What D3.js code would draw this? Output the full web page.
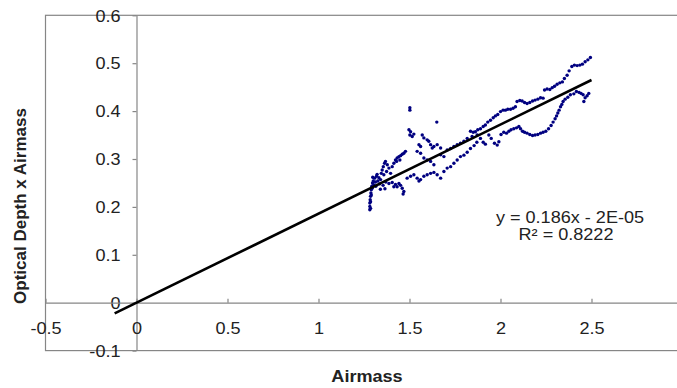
<!DOCTYPE html>
<html>
<head>
<meta charset="utf-8">
<script src="https://cdn.jsdelivr.net/npm/d3@7"></script>
<style>
  html, body { margin: 0; padding: 0; background: #fff; overflow: hidden; }
  text { font-family: Arial, "Liberation Sans", sans-serif; fill: #222; }
</style>
</head>
<body>
<svg id="chart" width="677" height="388"></svg>
<script>
// Airmass (x) of each observation
const airmass = [
  1.282, 1.282, 1.282, 1.284, 1.286, 1.288, 1.290, 1.293, 1.297, 1.301, 1.286, 1.286, 1.290, 1.295,
  1.308, 1.319, 1.332, 1.313, 1.326, 1.341, 1.304, 1.315, 1.322, 1.335, 1.298, 1.340, 1.355, 1.370, 1.365,
  1.350, 1.356, 1.363, 1.368, 1.378, 1.387, 1.374, 1.396, 1.359, 1.345,
  1.405, 1.414, 1.423, 1.432, 1.442, 1.451, 1.460, 1.469, 1.478, 1.447, 1.429,
  1.387, 1.405, 1.423, 1.432, 1.442, 1.451, 1.460, 1.469, 1.465, 1.414,
  1.487, 1.506, 1.524, 1.542, 1.552, 1.561, 1.579, 1.597, 1.616, 1.634, 1.652, 1.671, 1.689, 1.707, 1.726, 1.744, 1.762, 1.780, 1.799, 1.817,
  1.497, 1.506, 1.502, 1.515, 1.524, 1.570, 1.579, 1.597, 1.606, 1.616, 1.625, 1.634, 1.652, 1.671, 1.552, 1.561, 1.542, 1.561, 1.579, 1.597, 1.616, 1.634, 1.671, 1.689,
  1.707, 1.726, 1.744, 1.762, 1.780, 1.799, 1.817,
  1.502, 1.502, 1.650,
  1.835, 1.855, 1.870,
  1.835, 1.850, 1.862, 1.875, 1.890, 1.905, 1.917, 1.930, 1.945, 1.960, 1.972, 1.985, 2.000, 2.014, 2.027, 2.040, 2.055, 2.069, 2.082, 2.091,
  2.106, 2.119, 2.132, 2.146, 2.161, 2.176, 2.190, 2.205, 2.220, 2.234, 2.242, 2.256, 2.271, 2.284, 2.297, 2.311, 2.326, 2.340, 2.351, 2.366,
  2.377, 2.392, 2.406, 2.421, 2.436, 2.450, 2.465, 2.480, 2.494,
  1.844, 1.872, 1.890, 1.905, 1.917, 1.936, 1.949, 1.967, 1.982, 1.991, 2.003, 2.018, 2.033, 2.046, 2.058, 2.073, 2.088, 2.101, 2.110, 2.121,
  2.132, 2.146, 2.161, 2.176, 2.190, 2.205, 2.220, 2.234, 2.249, 2.264, 2.278, 2.289, 2.300, 2.308, 2.315, 2.322, 2.330, 2.337, 2.344, 2.355,
  2.370, 2.384, 2.403, 2.417, 2.432, 2.443, 2.454, 2.465, 2.458, 2.476, 2.485
];

// Optical depth multiplied by airmass (y), same order as airmass
const odAirmass = [
  0.194, 0.201, 0.208, 0.215, 0.222, 0.229, 0.236, 0.243, 0.250, 0.254, 0.197, 0.211, 0.225, 0.239,
  0.260, 0.264, 0.261, 0.252, 0.254, 0.257, 0.246, 0.243, 0.268, 0.248, 0.262, 0.237, 0.245, 0.252, 0.238,
  0.277, 0.284, 0.291, 0.295, 0.288, 0.281, 0.274, 0.270, 0.267, 0.270,
  0.284, 0.291, 0.298, 0.302, 0.305, 0.307, 0.310, 0.312, 0.316, 0.298, 0.295,
  0.249, 0.251, 0.247, 0.242, 0.249, 0.245, 0.239, 0.232, 0.227, 0.242,
  0.260, 0.264, 0.267, 0.260, 0.254, 0.257, 0.264, 0.267, 0.270, 0.272, 0.267, 0.260, 0.274, 0.281, 0.284, 0.291, 0.298, 0.305, 0.308, 0.314,
  0.361, 0.357, 0.350, 0.347, 0.352, 0.350, 0.344, 0.340, 0.337, 0.330, 0.323, 0.326, 0.330, 0.323, 0.330, 0.326, 0.316, 0.312, 0.302, 0.298, 0.295, 0.288, 0.309, 0.305,
  0.319, 0.322, 0.326, 0.330, 0.333, 0.337, 0.343,
  0.407, 0.402, 0.377,
  0.322, 0.328, 0.335,
  0.358, 0.356, 0.357, 0.361, 0.363, 0.368, 0.371, 0.377, 0.381, 0.386, 0.390, 0.393, 0.399, 0.402, 0.402, 0.404, 0.404, 0.406, 0.409, 0.420,
  0.422, 0.421, 0.418, 0.416, 0.418, 0.421, 0.423, 0.425, 0.428, 0.427, 0.444, 0.446, 0.445, 0.449, 0.452, 0.456, 0.459, 0.461, 0.468, 0.475,
  0.484, 0.493, 0.496, 0.495, 0.496, 0.498, 0.503, 0.507, 0.512,
  0.347, 0.350, 0.343, 0.335, 0.331, 0.350, 0.343, 0.333, 0.329, 0.336, 0.351, 0.356, 0.354, 0.358, 0.361, 0.363, 0.365, 0.368, 0.363, 0.358,
  0.356, 0.354, 0.351, 0.349, 0.350, 0.351, 0.354, 0.356, 0.358, 0.363, 0.370, 0.377, 0.384, 0.390, 0.396, 0.402, 0.409, 0.414, 0.420, 0.425,
  0.429, 0.434, 0.436, 0.441, 0.439, 0.437, 0.434, 0.428, 0.420, 0.432, 0.437
];

const xTicks = [-0.5, 0, 0.5, 1, 1.5, 2, 2.5];
const xTickLabels = ["-0.5", "0", "0.5", "1", "1.5", "2", "2.5"];
const yTicks = [-0.1, 0, 0.1, 0.2, 0.3, 0.4, 0.5, 0.6];
const yTickLabels = ["-0.1", "0", "0.1", "0.2", "0.3", "0.4", "0.5", "0.6"];

// Linear least-squares trendline
const slope = 0.186;
const intercept = -0.00002;
const fitRange = [-0.12, 2.5];
const equationLines = ["y = 0.186x - 2E-05", "R\u00B2 = 0.8222"];

const xTitle = "Airmass";
const yTitle = "Optical Depth x Airmass";

// ---- drawing ----
const svg = d3.select("#chart");
const stretch = 1.13; // text is a little wider than tall
const gridColor = "#868686";

const x = d3.scaleLinear().domain([-0.5, 3]).range([45.5, 682.5]);
const y = d3.scaleLinear().domain([-0.1, 0.6]).range([350.6, 15.3]);

// plot frame (its right side lies past the page edge)
svg.append("rect")
  .attr("x", x(-0.5)).attr("y", y(0.6))
  .attr("width", x(3) - x(-0.5)).attr("height", y(-0.1) - y(0.6))
  .attr("fill", "none").attr("stroke", gridColor).attr("stroke-width", 1.2);

// y axis, crossing at x = 0
const yAxis = svg.append("g")
  .attr("transform", `translate(${x(0)},0)`)
  .call(d3.axisLeft(y).tickValues(yTicks).tickSize(4).tickSizeOuter(0)
    .tickFormat((d, i) => yTickLabels[i]));

// x axis, crossing at y = 0, ticks pointing up
const xAxis = svg.append("g")
  .attr("transform", `translate(0,${y(0)})`)
  .call(d3.axisBottom(x).tickValues(xTicks).tickSize(-4).tickSizeOuter(0)
    .tickFormat((d, i) => xTickLabels[i]));

[xAxis, yAxis].forEach(g => {
  g.select(".domain").attr("stroke", gridColor).attr("stroke-width", 1.2);
  g.selectAll(".tick line").attr("stroke", gridColor).attr("stroke-width", 1.2);
  g.selectAll("text").attr("fill", "#222").style("font-size", "16px");
});

yAxis.selectAll(".tick text")
  .attr("x", -16 / stretch).attr("dy", "0.36em")
  .attr("transform", `scale(${stretch},1)`);

xAxis.selectAll(".tick text")
  .attr("x", 0).attr("y", 20).attr("dy", "0.71em")
  .attr("transform", `scale(${stretch},1)`);

// observations
svg.append("g")
  .selectAll("circle")
  .data(airmass.map((a, i) => [a, odAirmass[i]]))
  .join("circle")
  .attr("cx", d => x(d[0]))
  .attr("cy", d => y(d[1]))
  .attr("r", 1.7)
  .attr("fill", "#000080");

// trendline
svg.append("line")
  .attr("x1", x(fitRange[0])).attr("y1", y(slope * fitRange[0] + intercept))
  .attr("x2", x(fitRange[1])).attr("y2", y(slope * fitRange[1] + intercept))
  .attr("stroke", "#000").attr("stroke-width", 2.6).attr("stroke-linecap", "butt");

// trendline equation
const eqPos = [[570, 223], [566, 240]];
equationLines.forEach((t, i) => {
  svg.append("text")
    .attr("transform", `translate(${eqPos[i][0]},${eqPos[i][1]}) scale(${stretch},1)`)
    .attr("text-anchor", "middle")
    .style("font-size", "16px")
    .text(t);
});

// axis titles
svg.append("text")
  .attr("transform", `translate(367,382) scale(${stretch},1)`)
  .attr("text-anchor", "middle")
  .style("font-size", "16px").style("font-weight", "bold")
  .text(xTitle);

svg.append("text")
  .attr("transform", "translate(26,206) rotate(-90)")
  .attr("text-anchor", "middle")
  .style("font-size", "17px").style("font-weight", "bold")
  .text(yTitle);
</script>
</body>
</html>
